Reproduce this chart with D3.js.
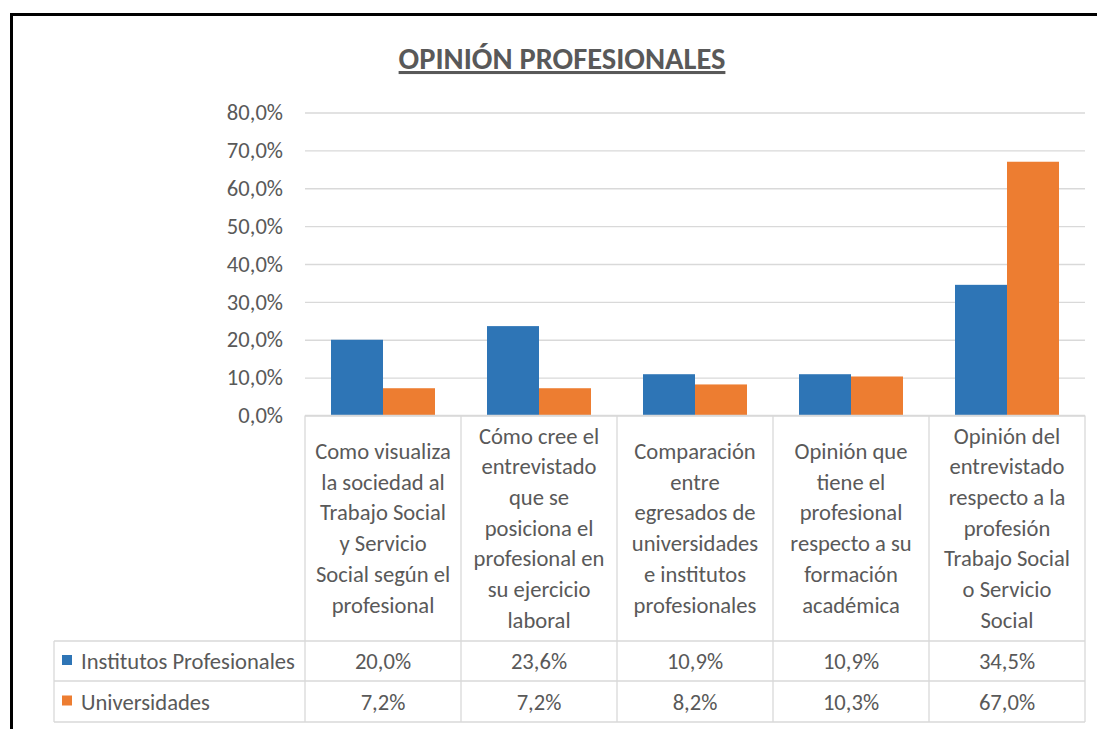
<!DOCTYPE html>
<html>
<head>
<meta charset="utf-8">
<script src="https://cdn.jsdelivr.net/npm/d3@7"></script>
<style>
  body { margin: 0; background: #fff; }
  svg text { font-family: Carlito, Lato, "Open Sans", sans-serif; fill: #595959; }
</style>
</head>
<body>
<div class="plot1"></div>
<script>
// Opinión profesionales: clustered bars with a data table under the axis

var categories = [
    ["Como visualiza", "la sociedad al", "Trabajo Social", "y Servicio", "Social según el", "profesional"],
    ["Cómo cree el", "entrevistado", "que se", "posiciona el", "profesional en", "su ejercicio", "laboral"],
    ["Comparación", "entre", "egresados de", "universidades", "e institutos", "profesionales"],
    ["Opinión que", "tiene el", "profesional", "respecto a su", "formación", "académica"],
    ["Opinión del", "entrevistado", "respecto a la", "profesión", "Trabajo Social", "o Servicio", "Social"]
];
var seriesNames = ["Institutos Profesionales", "Universidades"];
var institutos = [20.0, 23.6, 10.9, 10.9, 34.5];
var universidades = [7.2, 7.2, 8.2, 10.3, 67.0];
var yTicks = [0, 10, 20, 30, 40, 50, 60, 70, 80];

var colors = ["#2E75B6", "#ED7D31"];
var fmt = v => d3.format(".1f")(v).replace(".", ",") + "%";

var svgWidth = 1097;
var svgHeight = 729;
var fontSize = "22.6px";

var svg = d3.select(".plot1")
    .append("svg")
    .attr("width", svgWidth)
    .attr("height", svgHeight);

// black frame of the pasted chart (runs off the right and bottom edges)
svg.append("rect")
    .attr("x", 11.5).attr("y", 14.5)
    .attr("width", 1100).attr("height", 730)
    .attr("fill", "none")
    .attr("stroke", "#000")
    .attr("stroke-width", 3);

// title
svg.append("text")
    .attr("x", 562).attr("y", 69)
    .attr("text-anchor", "middle")
    .style("font-size", "30.5px")
    .style("font-weight", "bold")
    .style("text-decoration", "underline")
    .text("OPINIÓN PROFESIONALES");

var plotLeft = 305, plotRight = 1085, plotTop = 112.5, plotBottom = 415.5;

var x0 = d3.scaleBand()
    .domain(d3.range(categories.length))
    .range([plotLeft, plotRight])
    .paddingInner(0)
    .paddingOuter(0);

var x1 = d3.scaleBand()
    .domain([0, 1])
    .range([0, x0.bandwidth()])
    .paddingOuter(0.5)
    .paddingInner(0);

var y = d3.scaleLinear()
    .domain([0, 80])
    .range([plotBottom, plotTop]);

// gridlines + y axis labels
var leftAxis = d3.axisLeft(y)
    .tickValues(yTicks)
    .tickSize(-(plotRight - plotLeft))
    .tickPadding(22)
    .tickFormat(fmt);

var yAxis = svg.append("g")
    .attr("transform", `translate(${plotLeft}, 0)`)
    .call(leftAxis);
yAxis.select(".domain").remove();
yAxis.selectAll("line").attr("stroke", "#d9d9d9").attr("stroke-width", 1.3);
yAxis.selectAll("text")
    .style("font-size", fontSize)
    .attr("fill", "#595959");

// bars
var series = [institutos, universidades];
series.forEach((vals, s) => {
    svg.append("g").selectAll("rect")
        .data(vals)
        .enter()
        .append("rect")
        .attr("x", (d, i) => x0(i) + x1(s))
        .attr("y", d => y(d))
        .attr("width", x1.bandwidth())
        .attr("height", d => y(0) - y(d))
        .attr("fill", colors[s]);
});

// data table
var tableLeft = 54, row1 = 641, row2 = 681, row3 = 722;
var gridColor = "#d9d9d9";
var table = svg.append("g")
    .attr("stroke", gridColor)
    .attr("stroke-width", 1.3);

table.append("line").attr("x1", plotLeft).attr("x2", plotRight).attr("y1", plotBottom).attr("y2", plotBottom);
[row1, row2, row3].forEach(r => {
    table.append("line").attr("x1", tableLeft).attr("x2", plotRight).attr("y1", r).attr("y2", r);
});
table.append("line").attr("x1", tableLeft).attr("x2", tableLeft).attr("y1", row1).attr("y2", row3);
d3.range(categories.length + 1).forEach(i => {
    var xx = i < categories.length ? x0(i) : plotRight;
    table.append("line").attr("x1", xx).attr("x2", xx).attr("y1", plotBottom).attr("y2", row3);
});

// category labels
var lineH = 30.7;
var midCat = (plotBottom + row1) / 2;
categories.forEach((lines, i) => {
    var cx = x0(i) + x0.bandwidth() / 2;
    var t = svg.append("text")
        .attr("text-anchor", "middle")
        .style("font-size", fontSize);
    lines.forEach((ln, k) => {
        t.append("tspan")
            .attr("x", cx)
            .attr("y", midCat + (k - (lines.length - 1) / 2) * lineH + 7.5)
            .text(ln);
    });
});

// legend keys + values rows
var rowMids = [(row1 + row2) / 2, (row2 + row3) / 2];
series.forEach((vals, s) => {
    svg.append("rect")
        .attr("x", 62).attr("y", rowMids[s] - 6)
        .attr("width", 10).attr("height", 10)
        .attr("fill", colors[s]);
    svg.append("text")
        .attr("x", 81).attr("y", rowMids[s] + 8)
        .style("font-size", fontSize)
        .text(seriesNames[s]);
    svg.append("g").selectAll("text")
        .data(vals)
        .enter()
        .append("text")
        .attr("x", (d, i) => x0(i) + x0.bandwidth() / 2)
        .attr("y", rowMids[s] + 8)
        .attr("text-anchor", "middle")
        .style("font-size", fontSize)
        .text(d => fmt(d));
});
</script>
</body>
</html>
